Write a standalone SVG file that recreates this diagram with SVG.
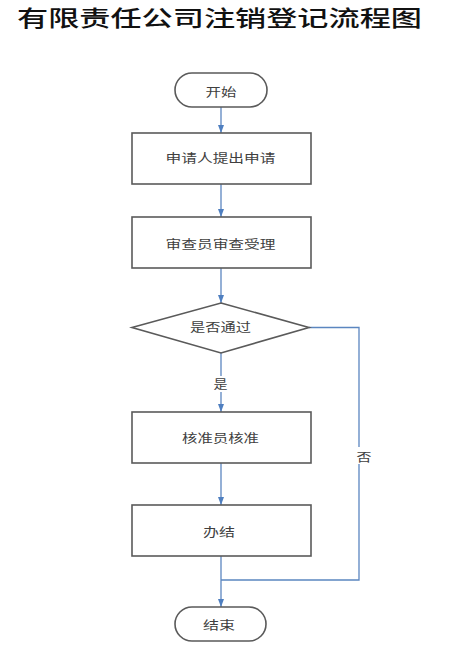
<svg xmlns="http://www.w3.org/2000/svg" width="470" height="652" viewBox="0 0 470 652">
<style>
.bg{fill:#ffffff}
.shape{fill:#ffffff;stroke:#5a5a5a;stroke-width:1.6}
.lbl{font-family:"Noto Sans CJK SC","Noto Sans",sans-serif;font-size:12px;fill:#404040;text-anchor:middle;dominant-baseline:central}
.title{font-family:"Noto Sans CJK SC","Noto Sans",sans-serif;font-size:22px;fill:#111111;font-weight:500}
.conn{fill:none;stroke:#5b86c0;stroke-width:1.3}
.gap{fill:#ffffff}
</style>
<defs>
<marker id="arr" viewBox="0 0 8 6" refX="8" refY="3" markerWidth="8" markerHeight="6" markerUnits="userSpaceOnUse" orient="auto">
<path d="M0,0 L8,3 L0,6 Z" fill="#4f7fc0"/>
</marker>
</defs>
<rect class="bg" x="0" y="0" width="470" height="652"/>
<text id="title" class="title" x="17" y="26" textLength="405" lengthAdjust="spacingAndGlyphs">有限责任公司注销登记流程图</text>

<g id="connectors">
<line class="conn" x1="221" y1="107" x2="221" y2="133" marker-end="url(#arr)"/>
<line class="conn" x1="221" y1="184" x2="221" y2="217" marker-end="url(#arr)"/>
<line class="conn" x1="221" y1="268" x2="221" y2="303" marker-end="url(#arr)"/>
<line class="conn" x1="221" y1="353" x2="221" y2="412" marker-end="url(#arr)"/>
<line class="conn" x1="221" y1="463" x2="221" y2="505" marker-end="url(#arr)"/>
<line class="conn" x1="221" y1="556" x2="221" y2="607" marker-end="url(#arr)"/>
<polyline class="conn" points="309,327.5 359,327.5 359,580 221,580"/>
<rect class="gap" x="212" y="376" width="17" height="16"/>
<text class="lbl" x="220.5" y="383.5" textLength="14" lengthAdjust="spacingAndGlyphs">是</text>
<rect class="gap" x="355" y="447" width="18" height="17"/>
<text class="lbl" x="364" y="456" textLength="15" lengthAdjust="spacingAndGlyphs">否</text>
</g>

<g id="start">
<rect class="shape" x="175" y="73" width="92" height="34" rx="17" ry="17"/>
<text class="lbl" x="221" y="91" textLength="31" lengthAdjust="spacingAndGlyphs">开始</text>
</g>
<g id="apply">
<rect class="shape" x="132" y="133" width="179" height="51"/>
<text class="lbl" x="220.5" y="157" textLength="110" lengthAdjust="spacingAndGlyphs">申请人提出申请</text>
</g>
<g id="review">
<rect class="shape" x="132" y="217" width="179" height="51"/>
<text class="lbl" x="220.5" y="243.5" textLength="110" lengthAdjust="spacingAndGlyphs">审查员审查受理</text>
</g>
<g id="decision">
<polygon class="shape" points="221,303 309,327.5 221,353 132,327.5"/>
<text class="lbl" x="220.5" y="326.5" textLength="61" lengthAdjust="spacingAndGlyphs">是否通过</text>
</g>
<g id="approve">
<rect class="shape" x="132" y="412" width="179" height="51"/>
<text class="lbl" x="220.5" y="437" textLength="77" lengthAdjust="spacingAndGlyphs">核准员核准</text>
</g>
<g id="finish">
<rect class="shape" x="132" y="505" width="179" height="51"/>
<text class="lbl" x="219" y="531" textLength="32" lengthAdjust="spacingAndGlyphs">办结</text>
</g>
<g id="end">
<rect class="shape" x="175" y="607" width="91" height="34" rx="17" ry="17"/>
<text class="lbl" x="219" y="624" textLength="32" lengthAdjust="spacingAndGlyphs">结束</text>
</g>
</svg>
